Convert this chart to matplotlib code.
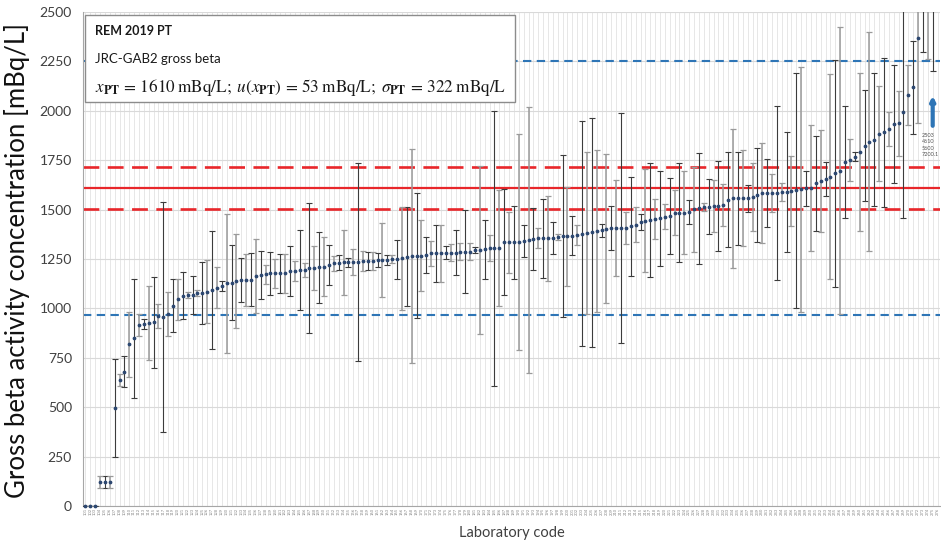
import matplotlib.pyplot as plt
import matplotlib.patches as mpatches
import numpy as np

plt.rcParams['font.family'] = ['Lato', 'DejaVu Sans']
plt.rcParams['mathtext.fontset'] = 'stix'

# assigned value and uncertainties of the PT
x_pt = 1610
u_pt = 53
sigma_pt = 322

# reported results (mBq/L), sorted, and their expanded uncertainties
values = [0, 0, 0, 123, 123, 123, 497, 638, 680, 818,
          849, 916, 920, 925, 929, 961, 957, 971, 1014, 1046,
          1063, 1068, 1068, 1076, 1080, 1085, 1093, 1105, 1113, 1127,
          1130, 1140, 1144, 1144, 1144, 1165, 1169, 1172, 1177, 1177,
          1177, 1177, 1189, 1191, 1194, 1194, 1203, 1203, 1208, 1211,
          1220, 1228, 1231, 1233, 1233, 1236, 1236, 1238, 1239, 1240,
          1244, 1246, 1247, 1248, 1249, 1253, 1262, 1265, 1267, 1267,
          1270, 1279, 1279, 1279, 1282, 1282, 1282, 1287, 1287, 1287,
          1296, 1296, 1299, 1304, 1304, 1304, 1334, 1334, 1334, 1338,
          1341, 1346, 1350, 1355, 1355, 1355, 1355, 1360, 1365, 1365,
          1368, 1370, 1379, 1382, 1385, 1390, 1395, 1402, 1407, 1407,
          1407, 1407, 1416, 1424, 1438, 1444, 1447, 1452, 1456, 1464,
          1468, 1484, 1484, 1484, 1489, 1501, 1506, 1514, 1514, 1518,
          1518, 1523, 1549, 1557, 1557, 1557, 1557, 1565, 1574, 1582,
          1585, 1585, 1585, 1590, 1590, 1595, 1598, 1603, 1607, 1610,
          1633, 1645, 1655, 1667, 1683, 1697, 1742, 1750, 1767, 1793,
          1824, 1844, 1853, 1883, 1891, 1906, 1933, 1936, 1995, 2080,
          2119, 2367, 2503, 4610, 5600, 7200.1]
uncert = [0, 0, 0, 30, 30, 30, 247, 32, 80, 163,
          300, 58, 25, 188, 230, 62, 582, 110, 135, 105,
          119, 15, 95, 15, 157, 160, 300, 104, 25, 352,
          189, 238, 112, 131, 134, 186, 121, 48, 110, 72,
          100, 100, 125, 50, 204, 36, 330, 111, 180, 150,
          100, 38, 37, 166, 23, 66, 500, 50, 45, 44,
          34, 188, 25, 20, 98, 260, 250, 540, 316, 181,
          92, 63, 145, 143, 32, 44, 114, 44, 211, 44,
          15, 426, 148, 65, 696, 293, 268, 153, 185, 547,
          83, 672, 157, 50, 200, 216, 80, 15, 410, 250,
          100, 51, 568, 410, 578, 410, 32, 377, 110, 245,
          580, 80, 250, 87, 40, 262, 290, 100, 240, 62,
          194, 113, 250, 210, 60, 215, 280, 20, 140, 130,
          228, 108, 240, 352, 235, 243, 70, 173, 240, 253,
          173, 95, 440, 45, 305, 178, 595, 620, 90, 320,
          240, 260, 85, 520, 575, 727, 283, 105, 23, 400,
          279, 553, 337, 240, 377, 86, 300, 166, 535, 152,
          236, 427, 204, 2350, 3400, 1500]
off_scale_text = ["2503", "4610", "5600", "7200.1"]
lab_codes = [f"{c:03d}" for c in range(101, 101 + len(values))]

n = len(values)
labs = np.arange(n)
v = np.array(values)
u = np.array(uncert)
y_max = 2500

fig = plt.figure(figsize=(9.41, 5.45), dpi=100)
ax = fig.add_axes([83 / 941, 1 - 506 / 545, 857 / 941, 494 / 545])

# reference lines
ax.axhline(x_pt, color='#e8262a', lw=1.6, zorder=2)
ax.axhline(x_pt + 2 * u_pt, color='#e8262a', lw=1.9, ls=(0, (6, 3.2)), zorder=2)
ax.axhline(x_pt - 2 * u_pt, color='#e8262a', lw=1.9, ls=(0, (6, 3.2)), zorder=2)
ax.axhline(x_pt + 2 * sigma_pt, color='#2e75b6', lw=1.5, ls=(0, (4, 2.6)), zorder=2)
ax.axhline(x_pt - 2 * sigma_pt, color='#2e75b6', lw=1.5, ls=(0, (4, 2.6)), zorder=2)

# error bars in two shades, then the results
dark = labs % 2 == 0
ax.errorbar(labs[dark], v[dark], yerr=u[dark], fmt='none', ecolor='#3c3c3c',
            elinewidth=0.8, capsize=2.2, capthick=0.8, zorder=3)
ax.errorbar(labs[~dark], v[~dark], yerr=u[~dark], fmt='none', ecolor='#9a9a9a',
            elinewidth=1.1, capsize=2.2, capthick=0.9, zorder=3)
shown = v <= y_max
ax.plot(labs[shown], v[shown], 'o', ms=1.7, color='#2c4770', zorder=4, clip_on=False)

# off-scale results
ax.annotate('', xy=(n - 2, 2090), xytext=(n - 2, 1910),
            arrowprops=dict(arrowstyle='-|>', color='#2e75b6', lw=3,
                            mutation_scale=6), zorder=5)
ax.text(n - 4.2, 1890, "\n".join(off_scale_text), fontsize=4, color='#555555',
        va='top', ha='left', linespacing=1.4, zorder=5)

ax.set_xlim(-0.5, n - 0.5)
ax.set_ylim(0, y_max)
ax.set_yticks(np.arange(0, y_max + 1, 250))
ax.set_xticks(labs)
ax.set_xticklabels(lab_codes, rotation=90, fontsize=3, color='#8a8a8a')
ax.tick_params(axis='both', length=0)
ax.tick_params(axis='y', labelsize=10, colors='#404040', pad=8)
ax.tick_params(axis='x', pad=1.5)
ax.grid(True, axis='y', color='#d9d9d9', lw=0.8, zorder=0)
ax.grid(True, axis='x', color='#e3e3e3', lw=0.6, zorder=0)
ax.set_axisbelow(True)
for side in ['top', 'right']:
    ax.spines[side].set_visible(False)
for side in ['left', 'bottom']:
    ax.spines[side].set_color('#a6a6a6')

fig.text(17 / 941, 1 - 260 / 545, 'Gross beta activity concentration [mBq/L]',
         rotation=90, fontsize=18.5, color='#111111', ha='center', va='center')
fig.text(512 / 941, 1 - 533 / 545, 'Laboratory code', fontsize=10.5,
         color='#404040', ha='center', va='center')

# info box
box = mpatches.Rectangle((85 / 941, 1 - 102 / 545), 430 / 941, 87 / 545,
                         transform=fig.transFigure, facecolor='white',
                         edgecolor='#8c8c8c', lw=1.0, zorder=10)
fig.patches.append(box)
fig.text(95 / 941, 1 - 31 / 545, 'REM 2019 PT', fontsize=9, fontweight='bold',
         color='#1a1a1a', va='center', zorder=11)
fig.text(95 / 941, 1 - 59 / 545, 'JRC-GAB2 gross beta', fontsize=9.5,
         color='#1a1a1a', va='center', zorder=11)
fig.text(95 / 941, 1 - 87 / 545,
         r'$x_{\mathbf{PT}}\,=\,1610\;\mathrm{mBq/L};\;u(x_{\mathbf{PT}})\,=\,53\;\mathrm{mBq/L};\;'
         r'\sigma_{\mathbf{PT}}\,=\,322\;\mathrm{mBq/L}$',
         fontsize=12.3, color='#1a1a1a', va='center', zorder=11)

fig.savefig('out.png', dpi=100)
